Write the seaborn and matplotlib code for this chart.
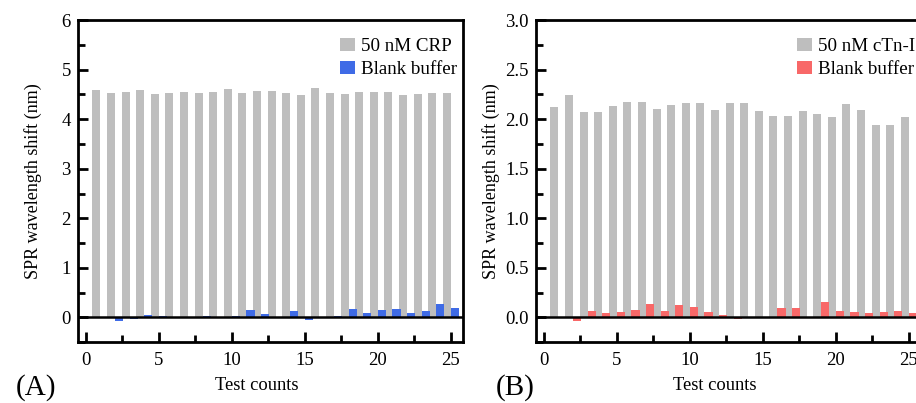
import numpy as np
import pandas as pd
import seaborn as sns
import matplotlib.pyplot as plt
from matplotlib.ticker import MultipleLocator

# values
tests = list(range(1, 26))
crp = [4.60, 4.53, 4.54, 4.59, 4.50, 4.53, 4.55, 4.52, 4.54, 4.62,
       4.52, 4.57, 4.56, 4.52, 4.48, 4.63, 4.53, 4.50, 4.54, 4.54,
       4.54, 4.48, 4.51, 4.52, 4.52]
blank_a = [0.00, -0.07, -0.04, 0.05, 0.02, 0.00, 0.01, 0.03, 0.01, 0.02,
           0.15, 0.07, 0.01, 0.13, -0.06, 0.00, 0.03, 0.16, 0.09, 0.15,
           0.16, 0.09, 0.13, 0.27, 0.18]
ctni = [2.12, 2.24, 2.07, 2.07, 2.13, 2.17, 2.17, 2.10, 2.14, 2.16,
        2.16, 2.09, 2.16, 2.16, 2.08, 2.03, 2.03, 2.08, 2.05, 2.02,
        2.15, 2.09, 1.94, 1.94, 2.02]
blank_b = [0.00, -0.04, 0.06, 0.045, 0.05, 0.07, 0.14, 0.06, 0.12, 0.105,
           0.05, 0.025, -0.02, 0.00, 0.00, 0.095, 0.09, 0.00, 0.155, 0.065,
           0.05, 0.04, 0.055, 0.065, 0.04]

sns.set_style("ticks")
plt.rcParams['font.family'] = ['Liberation Serif', 'DejaVu Serif']
plt.rcParams['text.color'] = 'black'
plt.rcParams['axes.labelcolor'] = 'black'
plt.rcParams['xtick.color'] = 'black'
plt.rcParams['ytick.color'] = 'black'
plt.rcParams['axes.edgecolor'] = 'black'

fig = plt.figure(figsize=(9.16, 4.03), dpi=100)
ax_a = fig.add_axes([0.085, 0.151, 0.420, 0.799])
ax_b = fig.add_axes([0.585, 0.151, 0.420, 0.799])


def panel(ax, sample, blank, sample_name, color, ylim, major, minor):
    df = pd.DataFrame({
        "test": tests * 2,
        "shift": sample + blank,
        "series": [sample_name] * len(tests) + ["Blank buffer"] * len(tests),
    })
    sns.barplot(data=df, x="test", y="shift", hue="series", native_scale=True,
                width=1.1, palette=["#bebebe", color], saturation=1,
                linewidth=0, ax=ax)
    ax.axhline(0, color="black", lw=1.8, zorder=5)
    ax.set_xlim(-0.55, 25.8)
    ax.set_ylim(*ylim)
    ax.xaxis.set_major_locator(MultipleLocator(5))
    ax.xaxis.set_minor_locator(MultipleLocator(2.5))
    ax.yaxis.set_major_locator(MultipleLocator(major))
    ax.yaxis.set_minor_locator(MultipleLocator(minor))
    ax.tick_params(which="both", direction="in", width=2, labelsize=13.5,
                   top=False, right=False)
    ax.tick_params(which="major", length=7)
    ax.tick_params(which="minor", length=5)
    ax.tick_params(axis="x", which="both", pad=7)
    ax.tick_params(axis="y", which="both", pad=5)
    for s in ax.spines.values():
        s.set_linewidth(2)
        s.set_visible(True)
    ax.set_xlabel("Test counts", fontsize=13.3)
    ax.set_ylabel("SPR wavelength shift (nm)", fontsize=13)
    ax.xaxis.set_label_coords(0.464, -0.107)
    ax.yaxis.set_label_coords(-0.092, 0.5)
    h, l = ax.get_legend_handles_labels()
    ax.legend(h, l, loc="upper right", bbox_to_anchor=(1.0, 0.962),
              frameon=False, fontsize=13.7, handlelength=0.8,
              handleheight=0.7, handletextpad=0.3, labelspacing=0.28,
              borderaxespad=0, borderpad=0.3)


panel(ax_a, crp, blank_a, "50 nM CRP", "#3f6be6", (-0.5, 6), 1, 0.5)
ax_a.yaxis.set_major_formatter(plt.FuncFormatter(lambda v, p: f"{v:.0f}"))
panel(ax_b, ctni, blank_b, "50 nM cTn-I", "#f86868", (-0.25, 3.0), 0.5, 0.25)
ax_b.yaxis.set_major_formatter(plt.FuncFormatter(lambda v, p: f"{v:.1f}"))

fig.text(0.017, 0.02, "(A)", fontsize=21, va="baseline")
fig.text(0.541, 0.02, "(B)", fontsize=21, va="baseline")

fig.savefig("out.png", dpi=100)
